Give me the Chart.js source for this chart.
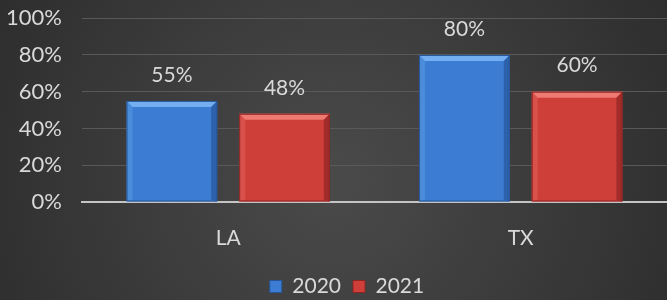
<!DOCTYPE html>
<html>
<head>
<meta charset="utf-8">
<script src="https://cdn.jsdelivr.net/npm/chart.js@4/dist/chart.umd.min.js"></script>
<style>
  html, body { margin: 0; padding: 0; background: #333; }
  #wrap { width: 667px; height: 300px; position: relative; }
</style>
</head>
<body>
<div id="wrap"><canvas id="myChart" width="667" height="300"></canvas></div>
<script>
// chart data
const categories = ["LA", "TX"];
const seriesNames = ["2020", "2021"];
const values2020 = [0.55, 0.80];
const values2021 = [0.48, 0.60];
const yTicks = [0, 0.2, 0.4, 0.6, 0.8, 1.0];

const textColor = "#d9d9d9";
const fontFamily = "Lato, 'Open Sans', sans-serif";

// colours for each series: body, top bevel, dark edge
const barColors = [
  { body: "#3c7dd3", light: "#72aef0", dark: "#27569a" },
  { body: "#cf3f3a", light: "#ef7a72", dark: "#8e2522" },
];

// radial dark background like the office chart
const backgroundPlugin = {
  id: "bg",
  afterLayout(chart) {
    // legend in the reference sits a bit right of centre
    const lg = chart.legend;
    if (lg) {
      lg.left += 12;
      lg.right += 12;
    }
  },
  beforeDraw(chart) {
    const { ctx, width, height } = chart;
    const g = ctx.createRadialGradient(width / 2, height * 0.6, 20, width / 2, height * 0.6, width * 0.6);
    g.addColorStop(0, "#494949");
    g.addColorStop(1, "#2c2c2c");
    ctx.save();
    ctx.fillStyle = g;
    ctx.fillRect(0, 0, width, height);
    ctx.restore();
  },
};

// bevel edges on the bars + value labels
const bevelPlugin = {
  id: "bevel",
  afterDatasetsDraw(chart) {
    const { ctx } = chart;
    chart.data.datasets.forEach((ds, i) => {
      const c = barColors[i];
      chart.getDatasetMeta(i).data.forEach((bar, j) => {
        const { x, y, base, width } = bar.getProps(["x", "y", "base", "width"], true);
        const l = x - width / 2, r = x + width / 2, b = base, t = y;
        const bv = 6;
        ctx.save();
        // top bevel
        ctx.fillStyle = c.light;
        ctx.beginPath();
        ctx.moveTo(l, t); ctx.lineTo(r, t); ctx.lineTo(r - bv, t + bv); ctx.lineTo(l + bv, t + bv);
        ctx.closePath(); ctx.fill();
        // left bevel
        ctx.globalAlpha = 0.3;
        ctx.beginPath();
        ctx.moveTo(l, t); ctx.lineTo(l + bv, t + bv); ctx.lineTo(l + bv, b - 2); ctx.lineTo(l, b);
        ctx.closePath(); ctx.fill();
        // right edge darker
        ctx.globalAlpha = 0.7;
        ctx.fillStyle = c.dark;
        ctx.beginPath();
        ctx.moveTo(r, t); ctx.lineTo(r - bv, t + bv); ctx.lineTo(r - bv, b - 2); ctx.lineTo(r, b);
        ctx.closePath(); ctx.fill();
        ctx.globalAlpha = 1;
        ctx.strokeStyle = c.dark;
        ctx.lineWidth = 1;
        ctx.strokeRect(l + 0.5, t + 0.5, width - 1, b - t - 1);
        ctx.restore();

        // value label
        ctx.save();
        ctx.fillStyle = textColor;
        ctx.font = "21px " + fontFamily;
        ctx.textAlign = "center";
        ctx.textBaseline = "middle";
        ctx.fillText(Math.round(ds.data[j] * 100) + "%", x, t - 26);
        ctx.restore();
      });
    });
  },
};

const ctx = document.getElementById("myChart");
new Chart(ctx, {
  type: "bar",
  data: {
    labels: categories,
    datasets: [
      {
        label: seriesNames[0],
        data: values2020,
        backgroundColor: barColors[0].body,
        barPercentage: 0.805,
        categoryPercentage: 0.77,
      },
      {
        label: seriesNames[1],
        data: values2021,
        backgroundColor: barColors[1].body,
        barPercentage: 0.805,
        categoryPercentage: 0.77,
      },
    ],
  },
  options: {
    responsive: false,
    animation: false,
    devicePixelRatio: 1,
    layout: { padding: { left: 1, right: -2, top: 0, bottom: -7 } },
    plugins: {
      tooltip: { enabled: false },
      legend: {
        position: "bottom",
        labels: {
          color: textColor,
          font: { family: fontFamily, size: 21 },
          boxWidth: 12,
          boxHeight: 12,
          padding: 12,
          generateLabels: (chart) =>
            chart.data.datasets.map((ds, i) => ({
              text: ds.label,
              fillStyle: barColors[i].body,
              strokeStyle: barColors[i].dark,
              lineWidth: 1,
              fontColor: textColor,
              datasetIndex: i,
            })),
        },
      },
    },
    scales: {
      y: {
        min: 0,
        max: 1,
        afterBuildTicks: (axis) => {
          axis.ticks = yTicks.map((v) => ({ value: v }));
        },
        ticks: {
          color: textColor,
          font: { family: fontFamily, size: 22 },
          padding: 5,
          callback: (value) => Math.round(value * 100) + "%",
        },
        grid: {
          color: "#595959",
          lineWidth: 1,
          drawTicks: true,
          tickLength: 15,
          tickColor: "rgba(0,0,0,0)",
        },
        border: { display: false },
      },
      x: {
        afterFit: (axis) => {
          axis.height = 62;
        },
        ticks: {
          color: textColor,
          font: { family: fontFamily, size: 21 },
          padding: 24,
        },
        grid: { display: false, drawTicks: false },
        border: { color: "#c4c4c4", width: 2 },
      },
    },
  },
  plugins: [backgroundPlugin, bevelPlugin],
});
</script>
</body>
</html>
